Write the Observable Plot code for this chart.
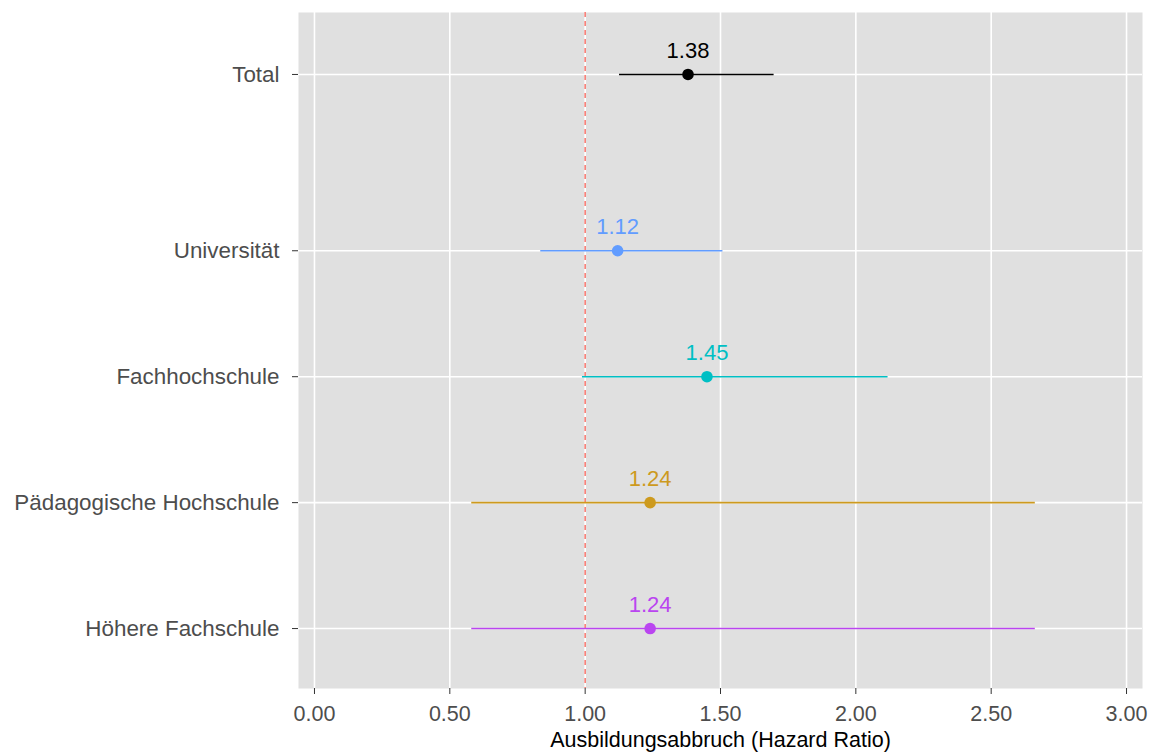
<!DOCTYPE html>
<html>
<head>
<meta charset="utf-8">
<script src="https://cdn.jsdelivr.net/npm/d3@7"></script>
<script src="https://cdn.jsdelivr.net/npm/@observablehq/plot@0.6"></script>
<style>
  html, body { margin: 0; padding: 0; background: #ffffff; }
  #chart svg { display: block; }
</style>
</head>
<body>
<div id="chart"></div>
<script>
// ---- data ----
const categories = ["Total", "Universität", "Fachhochschule", "Pädagogische Hochschule", "Höhere Fachschule"];
const rowIndex = [5.4, 4, 3, 2, 1];
const hazardRatio = [1.38, 1.12, 1.45, 1.24, 1.24];
const ciLower = [1.127, 0.836, 0.990, 0.581, 0.581];
const ciUpper = [1.698, 1.509, 2.119, 2.663, 2.663];
const seriesColors = ["#000000", "#619CFF", "#00BFC4", "#CD9A1E", "#BA45F0"];
const xTicks = [0, 0.5, 1, 1.5, 2, 2.5, 3];
const referenceValue = 1;
const xTitle = "Ausbildungsabbruch (Hazard Ratio)";

const rows = categories.map((c, i) => ({
  category: c, row: rowIndex[i], hr: hazardRatio[i],
  lo: ciLower[i], hi: ciUpper[i], color: seriesColors[i]
}));
const labelOf = new Map(rowIndex.map((r, i) => [r, categories[i]]));
const font = "'Liberation Sans', Arial, sans-serif";

const chart = Plot.plot({
  width: 1150,
  height: 753,
  marginLeft: 298,
  marginRight: 8,
  marginTop: 12,
  marginBottom: 65,
  style: { fontFamily: font, fontSize: "22.4px", background: "#ffffff", overflow: "visible" },
  x: { domain: [-0.059, 3.059], label: null },
  y: { domain: [0.524, 5.892], label: null },
  marks: [
    Plot.frame({ fill: "#E0E0E0", stroke: null }),
    Plot.ruleX(xTicks, { stroke: "#ffffff", strokeWidth: 1.6 }),
    Plot.ruleY(rowIndex, { stroke: "#ffffff", strokeWidth: 1.6 }),
    Plot.ruleX([referenceValue], { stroke: "#F8766D", strokeWidth: 1.5, strokeDasharray: "5,4" }),
    Plot.ruleY(rows, { y: "row", x1: "lo", x2: "hi", stroke: "color", strokeWidth: 1.6 }),
    Plot.dot(rows, { x: "hr", y: "row", fill: "color", r: 5.8, stroke: null }),
    Plot.text(rows, { x: "hr", y: "row", text: d => d.hr.toFixed(2), fill: "color", dy: -24, fontSize: 22 }),
    Plot.axisX({ ticks: xTicks, tickFormat: d3.format(".2f"), tickSize: 6, tickPadding: 11, stroke: "#333333", color: "#4D4D4D", fontSize: 21.5, label: null }),
    Plot.axisY({ ticks: rowIndex, tickFormat: d => labelOf.get(d), tickSize: 6, tickPadding: 13, stroke: "#333333", color: "#4D4D4D", fontSize: 22.4, label: null }),
    Plot.text([xTitle], { frameAnchor: "bottom", dy: 58, fill: "#000000", fontSize: 21.5, text: d => d })
  ]
});
document.getElementById("chart").appendChild(chart);
</script>
</body>
</html>
